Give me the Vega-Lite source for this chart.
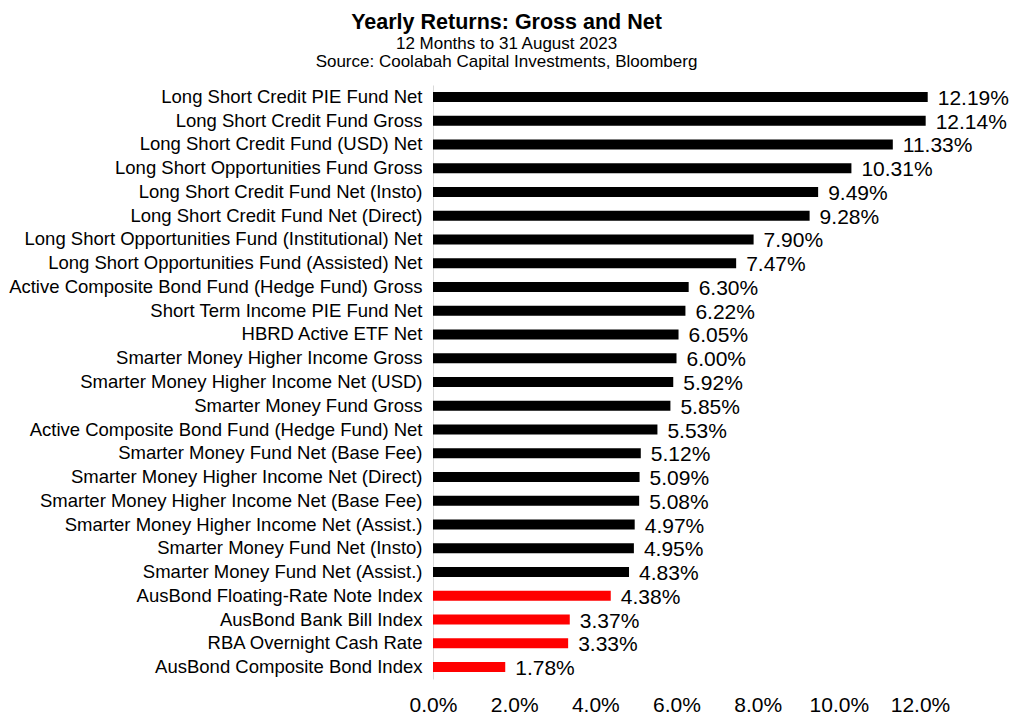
{
  "$schema": "https://vega.github.io/schema/vega-lite/v6.json",
  "width": 487,
  "height": 594,
  "autosize": "none",
  "padding": {"left": 433, "top": 85, "right": 93, "bottom": 39},
  "background": "white",
  "title": {
    "text": "Yearly Returns: Gross and Net",
    "subtitle": ["12 Months to 31 August 2023", "Source: Coolabah Capital Investments, Bloomberg"],
    "font": "Liberation Sans",
    "fontSize": 21.5,
    "fontWeight": "bold",
    "color": "black",
    "subtitleFont": "Liberation Sans",
    "subtitleFontSize": 17,
    "subtitleColor": "black",
    "subtitlePadding": 3,
    "subtitleLineHeight": 18,
    "anchor": "middle",
    "dx": -170,
    "offset": 15
  },
  "data": {
    "values": [
      {"name": "Long Short Credit PIE Fund Net", "value": 0.1219, "type": "Fund"},
      {"name": "Long Short Credit Fund Gross", "value": 0.1214, "type": "Fund"},
      {"name": "Long Short Credit Fund (USD) Net", "value": 0.1133, "type": "Fund"},
      {"name": "Long Short Opportunities Fund Gross", "value": 0.1031, "type": "Fund"},
      {"name": "Long Short Credit Fund Net (Insto)", "value": 0.0949, "type": "Fund"},
      {"name": "Long Short Credit Fund Net (Direct)", "value": 0.0928, "type": "Fund"},
      {"name": "Long Short Opportunities Fund (Institutional) Net", "value": 0.079, "type": "Fund"},
      {"name": "Long Short Opportunities Fund (Assisted) Net", "value": 0.0747, "type": "Fund"},
      {"name": "Active Composite Bond Fund (Hedge Fund) Gross", "value": 0.063, "type": "Fund"},
      {"name": "Short Term Income PIE Fund Net", "value": 0.0622, "type": "Fund"},
      {"name": "HBRD Active ETF Net", "value": 0.0605, "type": "Fund"},
      {"name": "Smarter Money Higher Income Gross", "value": 0.06, "type": "Fund"},
      {"name": "Smarter Money Higher Income Net (USD)", "value": 0.0592, "type": "Fund"},
      {"name": "Smarter Money Fund Gross", "value": 0.0585, "type": "Fund"},
      {"name": "Active Composite Bond Fund (Hedge Fund) Net", "value": 0.0553, "type": "Fund"},
      {"name": "Smarter Money Fund Net (Base Fee)", "value": 0.0512, "type": "Fund"},
      {"name": "Smarter Money Higher Income Net (Direct)", "value": 0.0509, "type": "Fund"},
      {"name": "Smarter Money Higher Income Net (Base Fee)", "value": 0.0508, "type": "Fund"},
      {"name": "Smarter Money Higher Income Net (Assist.)", "value": 0.0497, "type": "Fund"},
      {"name": "Smarter Money Fund Net (Insto)", "value": 0.0495, "type": "Fund"},
      {"name": "Smarter Money Fund Net (Assist.)", "value": 0.0483, "type": "Fund"},
      {"name": "AusBond Floating-Rate Note Index", "value": 0.0438, "type": "Index"},
      {"name": "AusBond Bank Bill Index", "value": 0.0337, "type": "Index"},
      {"name": "RBA Overnight Cash Rate", "value": 0.0333, "type": "Index"},
      {"name": "AusBond Composite Bond Index", "value": 0.0178, "type": "Index"}
    ]
  },
  "encoding": {
    "y": {
      "field": "name",
      "type": "nominal",
      "sort": null,
      "title": null,
      "axis": {
        "domain": true,
        "domainColor": "#d9d9d9",
        "ticks": false,
        "labelPadding": 11,
        "labelFont": "Liberation Sans",
        "labelFontSize": 18.5,
        "labelColor": "black",
        "labelLimit": 500
      }
    },
    "x": {
      "field": "value",
      "type": "quantitative",
      "title": null,
      "scale": {"domain": [0, 0.12], "nice": false},
      "axis": {
        "values": [0, 0.02, 0.04, 0.06, 0.08, 0.1, 0.12],
        "format": ".1%",
        "domain": false,
        "ticks": false,
        "grid": false,
        "labelPadding": 15,
        "labelFont": "Liberation Sans",
        "labelFontSize": 21,
        "labelColor": "black",
        "labelFlush": false
      }
    }
  },
  "layer": [
    {
      "mark": {"type": "bar", "size": 10, "clip": false},
      "encoding": {
        "color": {
          "field": "type",
          "type": "nominal",
          "scale": {"domain": ["Fund", "Index"], "range": ["#000000", "#ff0000"]},
          "legend": null
        }
      }
    },
    {
      "mark": {"type": "text", "align": "left", "baseline": "middle", "dx": 10, "dy": 2, "clip": false, "font": "Liberation Sans", "fontSize": 21, "color": "black"},
      "encoding": {
        "text": {"field": "value", "type": "quantitative", "format": ".2%"}
      }
    }
  ],
  "config": {"view": {"stroke": null}}
}
